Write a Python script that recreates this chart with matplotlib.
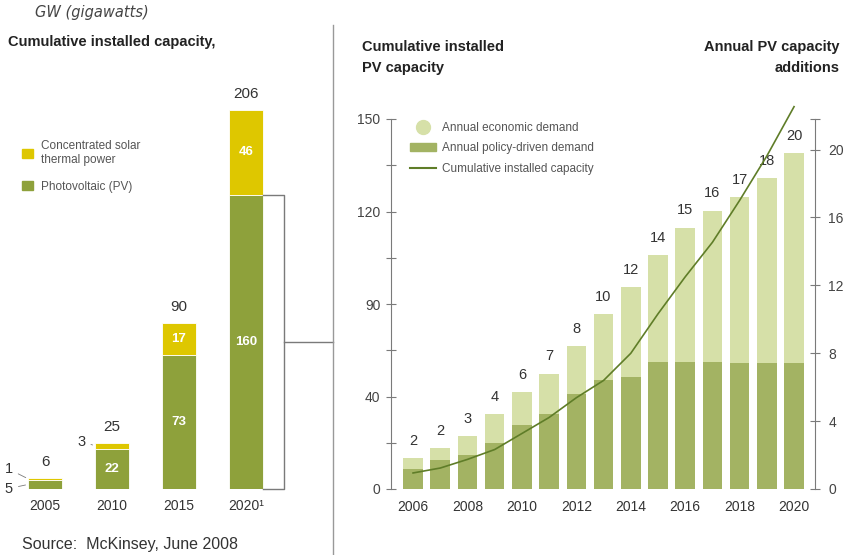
import matplotlib
matplotlib.use("Agg")
import matplotlib.pyplot as plt
from matplotlib.lines import Line2D
from matplotlib.patches import Patch
import numpy as np

plt.rcParams['font.family'] = ['Liberation Sans', 'DejaVu Sans']

# ---- Left panel: cumulative installed capacity (GW) ----
cum_years = ["2005", "2010", "2015", "2020\u00b9"]
pv_cum = [5, 22, 73, 160]
csp_cum = [1, 3, 17, 46]
total_cum = [6, 25, 90, 206]

# ---- Right panel: annual PV additions and cumulative PV ----
years = [2006, 2007, 2008, 2009, 2010, 2011, 2012, 2013, 2014,
         2015, 2016, 2017, 2018, 2019, 2020]
annual_total = [1.8, 2.4, 3.1, 4.4, 5.7, 6.8, 8.4, 10.3, 11.9,
                13.8, 15.4, 16.4, 17.2, 18.3, 19.8]
policy_demand = [1.2, 1.7, 2.0, 2.7, 3.8, 4.4, 5.6, 6.4, 6.6,
                 7.5, 7.5, 7.5, 7.4, 7.4, 7.4]
cum_pv = [6.5, 8.5, 12, 16, 22.5, 29, 37, 44, 55,
          71, 86, 100, 117, 135, 155]
left_tick_labels = ["0", "40", "90", "120", "150"]
right_ticks = [0, 4, 8, 12, 16, 20]
x_ticks = [2006, 2008, 2010, 2012, 2014, 2016, 2018, 2020]

W, H = 854, 555
fig = plt.figure(figsize=(W / 100, H / 100), dpi=100)
fig.patch.set_facecolor("white")


def box(l, t, r, b):
    return [l / W, 1 - b / H, (r - l) / W, (b - t) / H]


def fpt(px, py):
    return px / W, 1 - py / H


YELLOW = "#dec700"
GREEN = "#8ea13b"
LIGHT = "#d6e0a8"
DARK = "#a3b363"
LINE = "#5f7d28"
GRAY = "#7a7a7a"
TXT = "#333333"

# ---------------- left panel ----------------
axL = fig.add_axes(box(11.5, 66, 279.5, 489))
xs = np.arange(len(cum_years))
axL.bar(xs, pv_cum, width=0.5, color=GREEN, edgecolor="white", linewidth=0.6)
axL.bar(xs, csp_cum, width=0.5, bottom=pv_cum, color=YELLOW,
        edgecolor="white", linewidth=0.6)
axL.set_xlim(-0.5, 3.5)
axL.set_ylim(0, 230)
for s in axL.spines.values():
    s.set_visible(False)
axL.set_yticks([])
axL.set_xticks(xs)
axL.set_xticklabels(cum_years, fontsize=10, color=TXT)
axL.tick_params(axis="x", length=0, pad=7)

for x, t in zip(xs, total_cum):
    axL.text(x, t + 5, f"{t}", ha="center", va="bottom", fontsize=11, color=TXT)
for i in (1, 2, 3):
    axL.text(xs[i], pv_cum[i] / 2, f"{pv_cum[i]}", ha="center", va="center",
             fontsize=9.5, color="white", fontweight="bold")
for i in (2, 3):
    axL.text(xs[i], pv_cum[i] + csp_cum[i] / 2, f"{csp_cum[i]}", ha="center",
             va="center", fontsize=9.5, color="white", fontweight="bold")

# small side labels for the thin segments
axL.annotate(f"{csp_cum[0]}", xy=(-0.25, pv_cum[0] + csp_cum[0] / 2), xytext=(-11, 7),
             textcoords="offset points", ha="right", va="center", fontsize=10.5,
             color=TXT, arrowprops=dict(arrowstyle="-", lw=0.6, color=GRAY))
axL.annotate(f"{pv_cum[0]}", xy=(-0.25, pv_cum[0] / 2), xytext=(-11, -3),
             textcoords="offset points", ha="right", va="center", fontsize=10.5,
             color=TXT, arrowprops=dict(arrowstyle="-", lw=0.6, color=GRAY))
axL.annotate(f"{csp_cum[1]}", xy=(0.75, pv_cum[1] + csp_cum[1] / 2), xytext=(-7, 3),
             textcoords="offset points", ha="right", va="center", fontsize=10.5,
             color=TXT, arrowprops=dict(arrowstyle="-", lw=0.6, color=GRAY))

# bracket around the 2020 PV segment, linked to the right panel
xb = 3.57
axL.plot([3.25, xb, xb, 3.25], [pv_cum[3], pv_cum[3], 0, 0], color=GRAY,
         lw=1.0, clip_on=False)
axL.plot([xb, 4.3], [pv_cum[3] / 2, pv_cum[3] / 2], color=GRAY, lw=1.0,
         clip_on=False)

axL.legend(handles=[Patch(color=YELLOW), Patch(color=GREEN)],
           labels=["Concentrated solar\nthermal power", "Photovoltaic (PV)"],
           loc="upper left", bbox_to_anchor=(0.0, 0.85), frameon=False,
           fontsize=8.5, handlelength=0.9, handleheight=0.9, handletextpad=0.7,
           labelspacing=1.25, labelcolor="#555555")

fig.text(*fpt(35, 12), "GW (gigawatts)", fontsize=10.5, style="italic",
         color="#444444", va="center", ha="left", family="DejaVu Sans")
fig.text(*fpt(8, 42), "Cumulative installed capacity,", fontsize=10.5,
         fontweight="bold", color="#222222", va="center", ha="left")
fig.text(*fpt(22, 545), "Source:  McKinsey, June 2008", fontsize=11.5,
         color="#333333", va="center", ha="left")

# divider
fig.add_artist(Line2D([333 / W, 333 / W], [1 - 25 / H, 0], color="#999999", lw=1.0))

# ---------------- right panel ----------------
axR = fig.add_axes(box(391, 119, 815, 489))
economic = [t - p for t, p in zip(annual_total, policy_demand)]
axR2 = axR.twinx()
axR2.bar(years, policy_demand, width=0.72, color=DARK, linewidth=0)
axR2.bar(years, economic, width=0.72, bottom=policy_demand, color=LIGHT,
         linewidth=0)
axR2.set_ylim(0, 21.8)
for y, t in zip(years, annual_total):
    axR2.text(y, t + 0.6, f"{t:.0f}", ha="center", va="bottom", fontsize=10.5,
              color=TXT)

axR.set_zorder(axR2.get_zorder() + 1)
axR.patch.set_visible(False)
axR.plot(years, cum_pv, color=LINE, lw=1.2, clip_on=False, zorder=5)
axR.set_ylim(0, 150)
axR.set_xlim(2005.19, 2020.77)

for ax in (axR, axR2):
    for k in ("top", "bottom"):
        ax.spines[k].set_visible(False)
axR.spines["right"].set_visible(False)
axR2.spines["left"].set_visible(False)
axR.spines["left"].set_color(GRAY)
axR2.spines["right"].set_color(GRAY)

ltick = np.linspace(0, 150, 9)
axR.set_yticks(ltick)
axR.set_yticklabels([left_tick_labels[i // 2] if i % 2 == 0 else "" for i in range(9)],
                    fontsize=10, color="#444444")
axR.tick_params(axis="y", direction="inout", length=7, color=GRAY, pad=4)

axR2.set_yticks(right_ticks + [21.8])
axR2.set_yticklabels([str(v) for v in right_ticks] + [""], fontsize=10,
                     color="#444444")
axR2.tick_params(axis="y", direction="inout", length=7, color=GRAY, pad=6)

axR.set_xticks(x_ticks)
axR.set_xticklabels([str(x) for x in x_ticks], fontsize=10, color=TXT)
axR.tick_params(axis="x", length=0, pad=8)

axR.legend(handles=[Line2D([], [], marker="o", ls="none", ms=10, color=LIGHT),
                    Patch(color=DARK),
                    Line2D([], [], color=LINE, lw=1.5)],
           labels=["Annual economic demand", "Annual policy-driven demand",
                   "Cumulative installed capacity"],
           loc="upper left", bbox_to_anchor=(0.02, 1.02), frameon=False,
           fontsize=8.5, handlelength=2.2, handletextpad=0.5, labelspacing=0.7,
           labelcolor="#555555")

fig.text(*fpt(362, 47), "Cumulative installed", fontsize=10.5, fontweight="bold",
         color="#222222", va="center", ha="left")
fig.text(*fpt(362, 68), "PV capacity", fontsize=10.5, fontweight="bold",
         color="#222222", va="center", ha="left")
fig.text(*fpt(840, 47), "Annual PV capacity", fontsize=10.5, fontweight="bold",
         color="#222222", va="center", ha="right")
fig.text(*fpt(840, 68), "additions", fontsize=10.5, fontweight="bold",
         color="#222222", va="center", ha="right")

fig.savefig("out.png", dpi=100, facecolor="white")
